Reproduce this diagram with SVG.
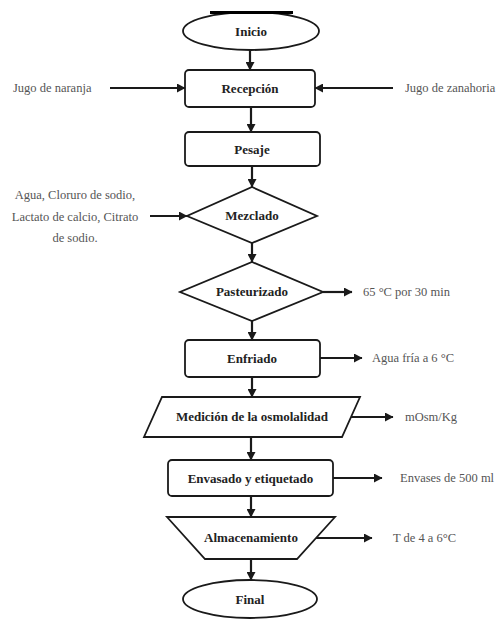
<svg xmlns="http://www.w3.org/2000/svg" width="500" height="619" viewBox="0 0 500 619">
  <style>
    .shape { fill: #fff; stroke: #1a1a1a; stroke-width: 1.8; }
    .conn { stroke: #1a1a1a; stroke-width: 2.2; fill: none; }
    text { font-family: 'Liberation Serif', 'DejaVu Serif', serif; }
    .label { font-size: 13px; font-weight: bold; fill: #222; text-anchor: middle; }
    .note { font-size: 12.5px; fill: #555; }
  </style>
  <defs>
    <marker id="arrow" markerUnits="userSpaceOnUse" markerWidth="9" markerHeight="9" refX="8" refY="4.5" orient="auto">
      <path d="M0,0 L8.5,4.5 L0,9 z" fill="#1a1a1a"/>
    </marker>
  </defs>
  <rect width="500" height="619" fill="#fff"/>

  <!-- process flow nodes -->
  <g id="inicio">
    <ellipse class="shape" cx="251" cy="31" rx="68" ry="19"/>
    <line x1="210" y1="12.5" x2="293" y2="12.5" stroke="#000" stroke-width="3"/>
    <text class="label" x="251" y="35.5" font-family="Liberation Serif, serif">Inicio</text>
  </g>
  <g id="recepcion">
    <rect class="shape" x="185" y="70" width="130" height="37" rx="4"/>
    <text class="label" x="250" y="93">Recepción</text>
  </g>
  <g id="pesaje">
    <rect class="shape" x="185" y="132" width="135" height="34" rx="4"/>
    <text class="label" x="252" y="153.5">Pesaje</text>
  </g>
  <g id="mezclado">
    <polygon class="shape" points="252,187 317,216 252,243 187,216"/>
    <text class="label" x="252" y="220">Mezclado</text>
  </g>
  <g id="pasteurizado">
    <polygon class="shape" points="252,262 323,292 252,321 180,292"/>
    <text class="label" x="252" y="296">Pasteurizado</text>
  </g>
  <g id="enfriado">
    <rect class="shape" x="185" y="340" width="135" height="37" rx="4"/>
    <text class="label" x="252" y="363">Enfriado</text>
  </g>
  <g id="medicion">
    <polygon class="shape" points="162,397 360,397 342,437 144,437"/>
    <text class="label" x="252" y="421">Medición de la osmolalidad</text>
  </g>
  <g id="envasado">
    <rect class="shape" x="168" y="460" width="165" height="36" rx="4"/>
    <text class="label" x="250.5" y="482.5">Envasado y etiquetado</text>
  </g>
  <g id="almacenamiento">
    <polygon class="shape" points="167,517 335,517 297,559 205,559"/>
    <text class="label" x="251" y="542">Almacenamiento</text>
  </g>
  <g id="final">
    <ellipse class="shape" cx="250" cy="599" rx="67" ry="19"/>
    <text class="label" x="250" y="603.5">Final</text>
  </g>

  <!-- inputs and conditions -->
  <g id="notes">
    <text class="note" x="13" y="92">Jugo de naranja</text>
    <text class="note" x="405" y="92">Jugo de zanahoria</text>
    <text class="note" x="75" y="199" text-anchor="middle">Agua, Cloruro de sodio,</text>
    <text class="note" x="75" y="221" text-anchor="middle">Lactato de calcio, Citrato</text>
    <text class="note" x="75" y="242" text-anchor="middle">de sodio.</text>
    <text class="note" x="363" y="296">65 °C por 30 min</text>
    <text class="note" x="372" y="362">Agua fría a 6 °C</text>
    <text class="note" x="405" y="421">mOsm/Kg</text>
    <text class="note" x="400" y="482">Envases de 500 ml</text>
    <text class="note" x="393" y="542">T de 4 a 6°C</text>
  </g>

  <!-- connectors -->
  <g id="connectors" class="conn" marker-end="url(#arrow)">
    <line x1="250" y1="50" x2="250" y2="70"/>
    <line x1="110" y1="88" x2="185" y2="88"/>
    <line x1="393" y1="88" x2="315" y2="88"/>
    <line x1="251" y1="107" x2="251" y2="132"/>
    <line x1="252" y1="166" x2="252" y2="187"/>
    <line x1="150" y1="216" x2="187" y2="216"/>
    <line x1="252" y1="243" x2="252" y2="262"/>
    <line x1="323" y1="292" x2="352" y2="292"/>
    <line x1="252" y1="321" x2="252" y2="340"/>
    <line x1="320" y1="358" x2="362" y2="358"/>
    <line x1="252" y1="377" x2="252" y2="397"/>
    <line x1="351" y1="417" x2="393" y2="417"/>
    <line x1="251" y1="437" x2="251" y2="460"/>
    <line x1="333" y1="478" x2="382" y2="478"/>
    <line x1="251" y1="496" x2="251" y2="517"/>
    <line x1="316" y1="538" x2="372" y2="538"/>
    <line x1="251" y1="559" x2="251" y2="580"/>
  </g>
</svg>
